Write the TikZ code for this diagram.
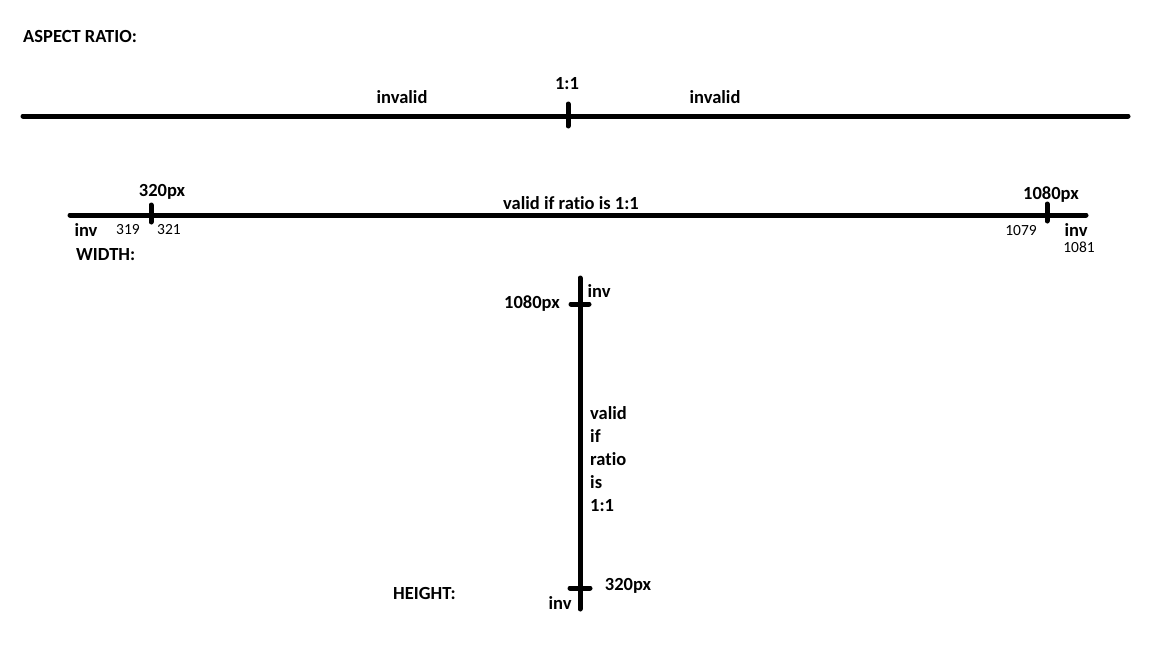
\documentclass[tikz,border=0pt]{standalone}
\usepackage{fontspec}
\setmainfont[Ligatures=NoCommon]{Carlito}
\usetikzlibrary{positioning}

\begin{document}
\begin{tikzpicture}[
  x=1pt,y=-1pt,
  axis/.style={line width=5pt,line cap=round},
  tick/.style={line width=5pt,line cap=round},
  lbl/.style={font=\bfseries\fontsize{18.5}{23}\selectfont,inner sep=0pt},
  num/.style={font=\fontsize{15.5}{16}\selectfont,inner sep=0pt}]
\useasboundingbox (0,0) rectangle (1152,648);

% aspect ratio line
\node[lbl,anchor=west] (artitle) at (23,36) {ASPECT RATIO:};
\coordinate (ara) at (23,116);
\coordinate (arb) at (1128,116);
\coordinate (arm) at (568,116);
\draw[axis] (ara) -- (arb);
\draw[tick] ([yshift=-10pt]arm) -- ([yshift=12pt]arm);
\node[lbl] (one) at (567,84) {1:1};
\node[lbl] (invl) at (402,97) {invalid};
\node[lbl] (invr) at (715,97) {invalid};

% width line
\coordinate (wa) at (70,215);
\coordinate (wb) at (1086,215);
\coordinate (wmin) at (151,215);
\coordinate (wmax) at (1047,215);
\draw[axis] (wa) -- (wb);
\draw[tick] ([yshift=-7pt]wmin) -- ([yshift=10pt]wmin);
\draw[tick] ([yshift=-6pt]wmax) -- ([yshift=11pt]wmax);
\node[lbl] (wlo) at (162,192) {320px};
\node[lbl] (whi) at (1051,195) {1080px};
\node[lbl] (wvalid) at (571,203) {valid if ratio is 1:1};
\node[lbl] (winvl) at (86,230) {inv};
\node[num] (w319) at (128,230) {319};
\node[num] (w321) at (169,230) {321};
\node[num] (w1079) at (1021,231) {1079};
\node[lbl] (winvr) at (1076,230) {inv};
\node[num] (w1081) at (1079,247) {1081};
\node[lbl,anchor=west] (wtitle) at (76,255) {WIDTH:};

% height line
\coordinate (ha) at (580,278);
\coordinate (hb) at (580,609);
\coordinate (hmax) at (580,304);
\coordinate (hmin) at (580,588);
\draw[axis] (ha) -- (hb);
\draw[tick] ([xshift=-9pt]hmax) -- ([xshift=9pt]hmax);
\draw[tick] ([xshift=-10pt]hmin) -- ([xshift=10pt]hmin);
\node[lbl] (hinvt) at (599,291) {inv};
\node[lbl] (hhi) at (532,304) {1080px};
\node[lbl,anchor=west,align=left] (hvalid) at (590,459)
  {valid\\if\\ratio\\is\\1:1};
\node[lbl] (hlo) at (628,586) {320px};
\node[lbl] (hinvb) at (560,603) {inv};
\node[lbl,anchor=west] (htitle) at (393,593) {HEIGHT:};
\end{tikzpicture}
\end{document}
